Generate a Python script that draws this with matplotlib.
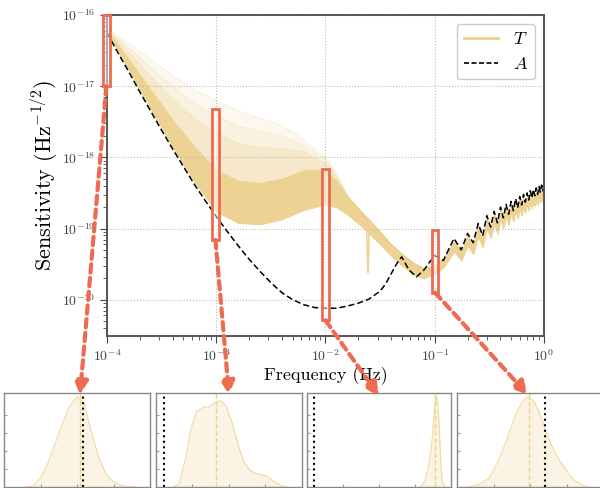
import numpy as np
import matplotlib
matplotlib.use("Agg")
import matplotlib.pyplot as plt
from matplotlib.lines import Line2D
from matplotlib.patches import Rectangle, ConnectionPatch

plt.rcParams['font.family'] = 'serif'
plt.rcParams['font.serif'] = ['cmr10', 'DejaVu Serif']
plt.rcParams['mathtext.fontset'] = 'cm'
plt.rcParams['axes.formatter.use_mathtext'] = True

gold = '#E9C46A'
band = '#EDD393'
red = '#EE6A50'

# ---- T band, low-frequency part (log10 f, log10 sensitivity) ----
t_logf = [-4.0, -3.8, -3.6, -3.4, -3.2, -3.0, -2.8, -2.6, -2.4, -2.2,
          -2.0, -1.9, -1.8, -1.7, -1.6, -1.5, -1.4, -1.3, -1.2, -1.1]
t_low = [-16.24, -16.77, -17.32, -17.85, -18.34, -18.76, -18.92, -18.94, -18.87, -18.74,
         -18.66, -18.70, -18.80, -18.93, -19.07, -19.22, -19.38, -19.52, -19.64, -19.70]
t_high = [-16.22, -16.62, -17.05, -17.47, -17.85, -18.18, -18.33, -18.36, -18.30, -18.18,
          -18.18, -18.33, -18.55, -18.72, -18.88, -19.05, -19.22, -19.36, -19.48, -19.56]
t_mid = [-16.21, -16.52, -16.86, -17.18, -17.45, -17.66, -17.80, -17.86, -17.88, -17.92,
         -18.08, -18.28, -18.55, -18.72, -18.88, -19.05, -19.22, -19.36, -19.48, -19.56]
t_mid2 = [-16.21, -16.46, -16.74, -17.01, -17.24, -17.42, -17.56, -17.64, -17.70, -17.83,
          -18.03, -18.25, -18.54, -18.72, -18.88, -19.05, -19.22, -19.36, -19.48, -19.56]
t_outer = [-16.20, -16.40, -16.62, -16.85, -17.05, -17.20, -17.35, -17.45, -17.55, -17.75,
           -18.00, -18.22, -18.52, -18.72, -18.88, -19.05, -19.22, -19.36, -19.48, -19.56]

# ---- T band, high-frequency part (Hz, log10 sensitivity) ----
th_f = [0.10, 0.12, 0.15, 0.175, 0.20, 0.225, 0.25, 0.275, 0.30, 0.325, 0.35, 0.375,
        0.40, 0.425, 0.45, 0.475, 0.50, 0.525, 0.55, 0.575, 0.60, 0.625, 0.65, 0.675,
        0.70, 0.725, 0.75, 0.775, 0.80, 0.825, 0.85, 0.875, 0.90, 0.925, 0.95, 0.975, 1.0]
th_top = [-19.52, -19.42, -19.18, -19.33, -19.10, -19.23, -18.97, -19.13, -18.86, -19.01,
          -18.80, -18.95, -18.74, -18.88, -18.70, -18.83, -18.66, -18.78, -18.62, -18.74,
          -18.59, -18.70, -18.56, -18.66, -18.54, -18.63, -18.51, -18.60, -18.49, -18.57,
          -18.47, -18.55, -18.45, -18.52, -18.43, -18.50, -18.41]
th_bot = [-19.64, -19.55, -19.32, -19.45, -19.24, -19.36, -19.12, -19.26, -19.00, -19.13,
          -18.94, -19.07, -18.87, -19.00, -18.83, -18.95, -18.79, -18.90, -18.75, -18.86,
          -18.72, -18.82, -18.69, -18.78, -18.66, -18.75, -18.63, -18.72, -18.61, -18.69,
          -18.59, -18.67, -18.57, -18.64, -18.55, -18.62, -18.53]

# notch in one T curve near 0.0245 Hz
notch_f = [0.0238, 0.0245, 0.0252]
notch_v = [-19.00, -19.62, -19.05]

# ---- A curve ----
a_logf = [-4.0, -3.9, -3.8, -3.7, -3.6, -3.5, -3.4, -3.3, -3.2, -3.1, -3.0, -2.9, -2.8,
          -2.7, -2.6, -2.5, -2.4, -2.3, -2.2, -2.1, -2.0, -1.9, -1.8, -1.7, -1.6, -1.5,
          -1.45, -1.4, -1.35, -1.32]
a_logv = [-16.25, -16.53, -16.80, -17.08, -17.35, -17.62, -17.88, -18.13, -18.38, -18.61,
          -18.83, -19.04, -19.24, -19.43, -19.60, -19.76, -19.90, -20.00, -20.07, -20.11,
          -20.12, -20.12, -20.09, -20.05, -19.99, -19.88, -19.78, -19.64, -19.50, -19.43]
a_f = [0.05, 0.058, 0.068, 0.08, 0.09,
       0.10, 0.12, 0.15, 0.175, 0.20, 0.225, 0.25, 0.275, 0.30, 0.325, 0.35, 0.375,
       0.40, 0.425, 0.45, 0.475, 0.50, 0.525, 0.55, 0.575, 0.60, 0.625, 0.65, 0.675,
       0.70, 0.725, 0.75, 0.775, 0.80, 0.825, 0.85, 0.875, 0.90, 0.925, 0.95, 0.975, 1.0]
a_v = [-19.40, -19.58, -19.68, -19.58, -19.47,
       -19.38, -19.45, -19.14, -19.30, -19.07, -19.20, -18.93, -19.10, -18.82, -18.98,
       -18.76, -18.92, -18.70, -18.85, -18.66, -18.80, -18.62, -18.75, -18.58, -18.71,
       -18.55, -18.67, -18.52, -18.63, -18.50, -18.60, -18.47, -18.57, -18.45, -18.54,
       -18.43, -18.52, -18.41, -18.49, -18.39, -18.47, -18.37]

# ---- inset distributions (normalised x, density) ----
d1_x = [0.15, 0.20, 0.25, 0.30, 0.35, 0.40, 0.45, 0.50, 0.55, 0.60, 0.65, 0.70, 0.75, 0.80, 0.85, 0.90]
d1_y = [0.00, 0.01, 0.10, 0.26, 0.48, 0.70, 0.90, 1.00, 0.92, 0.60, 0.32, 0.14, 0.06, 0.02, 0.005, 0.0]
d2_x = [0.12, 0.16, 0.20, 0.24, 0.28, 0.32, 0.36, 0.40, 0.44, 0.48, 0.52, 0.56, 0.60, 0.64,
        0.68, 0.72, 0.76, 0.80, 0.85, 0.90]
d2_y = [0.00, 0.04, 0.30, 0.65, 0.84, 0.88, 0.89, 0.93, 0.96, 0.90, 0.72, 0.48, 0.29, 0.19,
        0.15, 0.14, 0.12, 0.07, 0.02, 0.0]
d3_x = [0.78, 0.80, 0.82, 0.84, 0.86, 0.87, 0.88, 0.89, 0.90, 0.91, 0.92, 0.93, 0.94, 0.96]
d3_y = [0.00, 0.02, 0.08, 0.20, 0.40, 0.55, 0.75, 0.95, 1.00, 0.90, 0.60, 0.25, 0.05, 0.0]
d4_x = [0.08, 0.15, 0.22, 0.28, 0.34, 0.40, 0.45, 0.48, 0.52, 0.56, 0.60, 0.65, 0.70, 0.75,
        0.80, 0.85, 0.90]
d4_y = [0.00, 0.03, 0.10, 0.28, 0.52, 0.80, 0.95, 1.00, 0.96, 0.84, 0.66, 0.45, 0.30, 0.18,
        0.08, 0.03, 0.0]
t_marks = [0.52, 0.41, 0.89, 0.49]   # median of T in each inset
a_marks = [0.54, 0.055, 0.05, 0.60]  # value of A in each inset

fig = plt.figure(figsize=(6, 4.88), dpi=100)
ax = fig.add_axes([0.1783, 0.3115, 0.7283, 0.6578])

f_lo = 10 ** np.array(t_logf)
ax.fill_between(f_lo, 10 ** np.array(t_high), 10 ** np.array(t_outer), color=gold, alpha=0.10, lw=0)
ax.fill_between(f_lo, 10 ** np.array(t_high), 10 ** np.array(t_mid2), color=gold, alpha=0.10, lw=0)
ax.fill_between(f_lo, 10 ** np.array(t_high), 10 ** np.array(t_mid), color=gold, alpha=0.18, lw=0)
for c in (t_outer, t_mid2, t_mid):
    ax.plot(f_lo, 10 ** np.array(c), color=gold, alpha=0.25, lw=0.6)

f_all = np.concatenate([f_lo, th_f])
lo_all = np.concatenate([t_low, th_bot])
hi_all = np.concatenate([t_high, th_top])
ax.fill_between(f_all, 10 ** lo_all, 10 ** hi_all, color=band, lw=0.8, edgecolor=band)
ax.plot(notch_f, 10 ** np.array(notch_v), color=band, lw=1.2)

a_all_f = np.concatenate([10 ** np.array(a_logf), a_f])
a_all_v = np.concatenate([a_logv, a_v])
ax.plot(a_all_f, 10 ** a_all_v, color='k', ls=(0, (4, 2)), lw=1.1)

ax.set_xscale('log')
ax.set_yscale('log')
ax.set_xlim(1e-4, 1)
ax.set_ylim(10 ** -20.51, 1e-16)
ax.grid(True, which='major', ls=':', color='#bbbbbb', lw=0.8)
for s in ax.spines.values():
    s.set_color('#555555')
    s.set_linewidth(1.4)
ax.tick_params(which='both', direction='out', colors='#444444', labelsize=10)
ax.tick_params(which='major', length=5)
ax.tick_params(which='minor', length=3)
ax.set_xlabel('Frequency (Hz)', fontsize=13, labelpad=2)
ax.set_ylabel('Sensitivity (Hz$^{-1/2}$)', fontsize=16, labelpad=1)

handles = [Line2D([], [], color=gold, lw=2, alpha=0.8),
           Line2D([], [], color='k', ls=(0, (3, 1.5)), lw=1.2)]
ax.legend(handles, ['$T$', '$A$'], loc='upper right', fontsize=13,
          handlelength=1.9, edgecolor='#cccccc', framealpha=1, borderpad=0.4)

# highlight boxes (log10 f left/right, log10 y bottom/top)
boxes = [(-4.037, -3.973, -17.0, -16.0),
         (-3.039, -2.975, -19.16, -17.32),
         (-2.032, -1.968, -20.29, -18.16),
         (-1.025, -0.970, -19.90, -19.02)]
for x0, x1, y0, y1 in boxes:
    ax.add_patch(Rectangle((10 ** x0, 10 ** y0), 10 ** x1 - 10 ** x0, 10 ** y1 - 10 ** y0,
                           facecolor='white', alpha=0.5, edgecolor='none', clip_on=False, zorder=4))
    ax.add_patch(Rectangle((10 ** x0, 10 ** y0), 10 ** x1 - 10 ** x0, 10 ** y1 - 10 ** y0,
                           facecolor='none', edgecolor=red, lw=2, clip_on=False, zorder=5))

# insets
inset_pos = [[0.0067, 0.002, 0.2433, 0.1926],
             [0.26, 0.002, 0.2433, 0.1926],
             [0.5117, 0.002, 0.24, 0.1926],
             [0.7617, 0.002, 0.2433, 0.1926]]
dists = [(d1_x, d1_y), (d2_x, d2_y), (d3_x, d3_y), (d4_x, d4_y)]
arrow_end = [(0.1333, 0.1906), (0.3817, 0.1906), (0.6317, 0.1885), (0.88, 0.1906)]
for i, (pos, (dx, dy)) in enumerate(zip(inset_pos, dists)):
    ia = fig.add_axes(pos)
    ia.fill_between(dx, 0, dy, color=gold, alpha=0.18, lw=0)
    ia.plot(dx, dy, color=gold, alpha=0.6, lw=0.8)
    ia.axvline(t_marks[i], color=gold, ls='--', lw=1, alpha=0.7)
    ia.axvline(a_marks[i], color='k', ls=':', lw=1.5)
    ia.set_xlim(0, 1)
    ia.set_ylim(0, 1.04)
    ia.set_xticks([0.25, 0.5, 0.75, 1.0])
    ia.set_yticks([0.2, 0.4, 0.6, 0.8])
    ia.tick_params(length=2, direction='in', colors='#999999', labelbottom=False, labelleft=False)
    for s in ia.spines.values():
        s.set_color('#888888')
        s.set_linewidth(1)

    x0, x1, y0, y1 = boxes[i]
    xs = 10 ** ((x0 + x1) / 2)
    con = ConnectionPatch(xyA=(xs, 10 ** y0), coordsA=ax.transData,
                          xyB=arrow_end[i], coordsB=fig.transFigure,
                          arrowstyle='-|>', mutation_scale=20, color=red,
                          lw=3, ls=(0, (2, 1.3)), shrinkA=0, shrinkB=0, zorder=10)
    fig.add_artist(con)

fig.savefig('out.png', dpi=100)
